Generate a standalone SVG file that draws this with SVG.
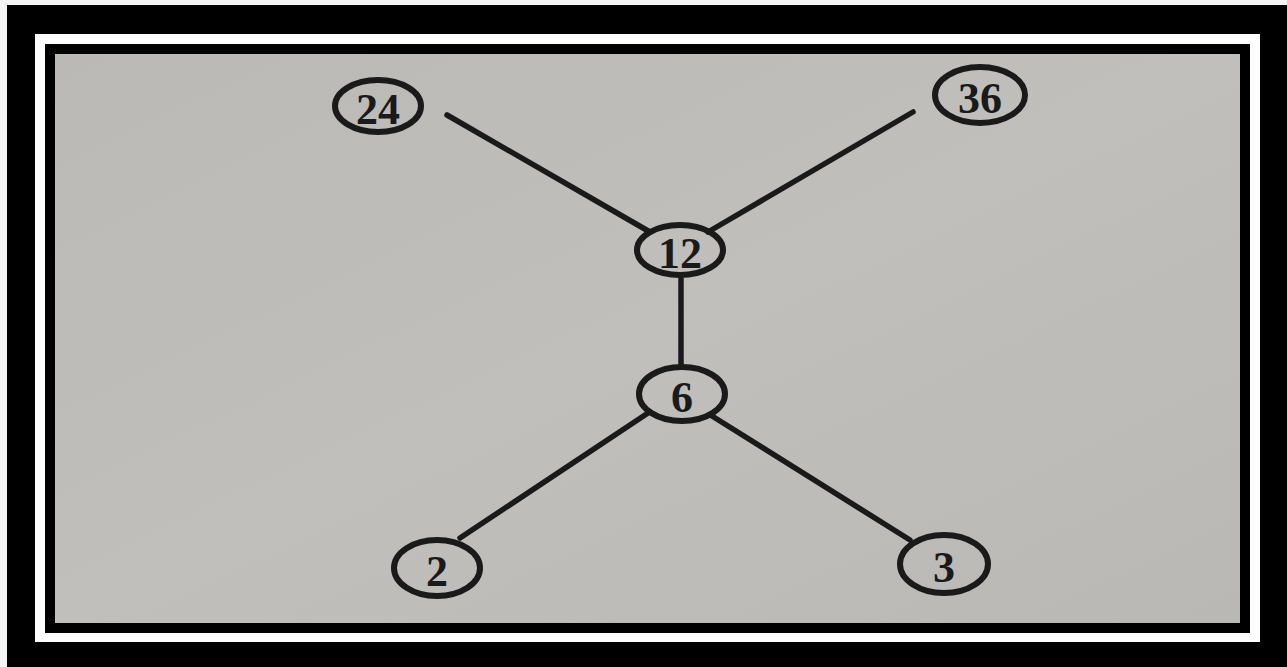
<svg xmlns="http://www.w3.org/2000/svg" width="1287" height="667" viewBox="0 0 1287 667">
<style>
.node ellipse{fill:none;stroke:#1a1a1a;stroke-width:6}
.node text{font-family:"Liberation Serif","DejaVu Serif",serif;font-weight:bold;font-size:44px;fill:#1a1a1a;text-anchor:middle;dominant-baseline:central}
.edge{stroke:#1a1a1a;stroke-width:5.5;stroke-linecap:round;fill:none}
</style>
<defs>
<linearGradient id="paper" x1="0" y1="0" x2="1" y2="1">
<stop offset="0" stop-color="#bab9b6"/>
<stop offset="0.5" stop-color="#c0bfbc"/>
<stop offset="1" stop-color="#b9b8b5"/>
</linearGradient>
</defs>
<rect x="0" y="0" width="1287" height="667" fill="#f4f4f4"/>
<rect x="7" y="5" width="1280" height="662" fill="#000"/>
<rect x="35" y="34" width="1225" height="608" fill="#fff"/>
<rect x="45" y="44" width="1205" height="589" fill="#000"/>
<rect x="55" y="54" width="1185" height="569" fill="url(#paper)"/>
<g id="connectors">
<line class="edge" x1="447" y1="115" x2="650" y2="232"/>
<line class="edge" x1="913" y1="112" x2="708" y2="232"/>
<line class="edge" x1="681" y1="279" x2="681" y2="364"/>
<line class="edge" x1="648" y1="413" x2="460" y2="538"/>
<line class="edge" x1="712" y1="416" x2="910" y2="540"/>
</g>
<g id="n24" class="node"><ellipse cx="378" cy="106" rx="43" ry="26"/><text x="378" y="109">24</text></g>
<g id="n36" class="node"><ellipse cx="980" cy="95" rx="45" ry="28"/><text x="980" y="98">36</text></g>
<g id="n12" class="node"><ellipse cx="680" cy="250" rx="43" ry="25"/><text x="680" y="253">12</text></g>
<g id="n6" class="node"><ellipse cx="682" cy="394" rx="43" ry="27"/><text x="682" y="397">6</text></g>
<g id="n2" class="node"><ellipse cx="437" cy="568" rx="43" ry="28"/><text x="437" y="571">2</text></g>
<g id="n3" class="node"><ellipse cx="944" cy="564" rx="44" ry="29"/><text x="944" y="567">3</text></g>
</svg>
